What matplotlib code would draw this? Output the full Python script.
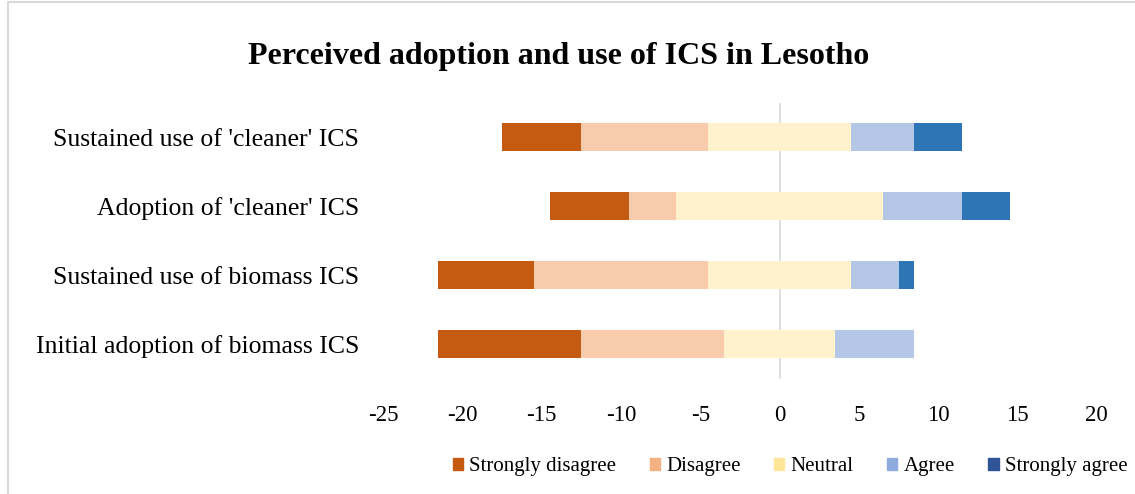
import numpy as np
import matplotlib.pyplot as plt
from matplotlib.patches import Patch, Rectangle

plt.rcParams['font.family'] = ['Liberation Serif', 'DejaVu Serif']
plt.rcParams['axes.unicode_minus'] = False

categories = ["Initial adoption of biomass ICS",
              "Sustained use of biomass ICS",
              "Adoption of 'cleaner' ICS",
              "Sustained use of 'cleaner' ICS"]
levels = ['Strongly disagree', 'Disagree', 'Neutral', 'Agree', 'Strongly agree']

strongly_disagree = [9, 6, 5, 5]
disagree = [9, 11, 3, 8]
neutral = [7, 9, 13, 9]
agree = [5, 3, 5, 4]
strongly_agree = [0, 1, 3, 3]

bar_colors = ['#C55A11', '#F8CBAD', '#FFF2CC', '#B4C7E7', '#2E75B6']
legend_colors = ['#C55A11', '#F4B183', '#FFE699', '#8FAADC', '#2F5597']

fig = plt.figure(figsize=(11.35, 4.94), dpi=100)
ax = fig.add_axes([0.3374, 0.2338, 0.629, 0.5587])

y = np.arange(len(categories))
sd = np.array(strongly_disagree)
d = np.array(disagree)
n = np.array(neutral)
a = np.array(agree)
sa = np.array(strongly_agree)

# diverging: neutral split evenly around zero
left = -n / 2 - d - sd
for vals, col in zip([sd, d, n, a, sa], bar_colors):
    ax.barh(y, vals, left=left, height=0.4, color=col, edgecolor='none')
    left = left + vals

ax.axvline(0, color='#D9D9D9', lw=1.2, zorder=0)
ax.set_xlim(-25, 20)
ax.set_ylim(-0.5, 3.5)
ax.set_xticks(np.arange(-25, 21, 5))
ax.set_yticks(y)
ax.set_yticklabels(categories, fontsize=18.5)
ax.tick_params(axis='x', labelsize=16.5, length=0, pad=19)
ax.tick_params(axis='y', length=0, pad=17)
for s in ax.spines.values():
    s.set_visible(False)

fig.text(0.492, 0.885, 'Perceived adoption and use of ICS in Lesotho',
         ha='center', va='center', fontsize=23, fontweight='bold')

handles = [Patch(color=c, label=l) for c, l in zip(legend_colors, levels)]
fig.legend(handles=handles, loc='center right', bbox_to_anchor=(1.01, 0.055),
           ncol=5, frameon=False, fontsize=15, handlelength=0.5, handleheight=0.5,
           handletextpad=0.3, columnspacing=1.6)

fig.patches.append(Rectangle((0.007, -0.01), 1.1, 1.005, transform=fig.transFigure,
                             fill=False, edgecolor='#D9D9D9', lw=1.5))

fig.savefig('out.png', dpi=100)
